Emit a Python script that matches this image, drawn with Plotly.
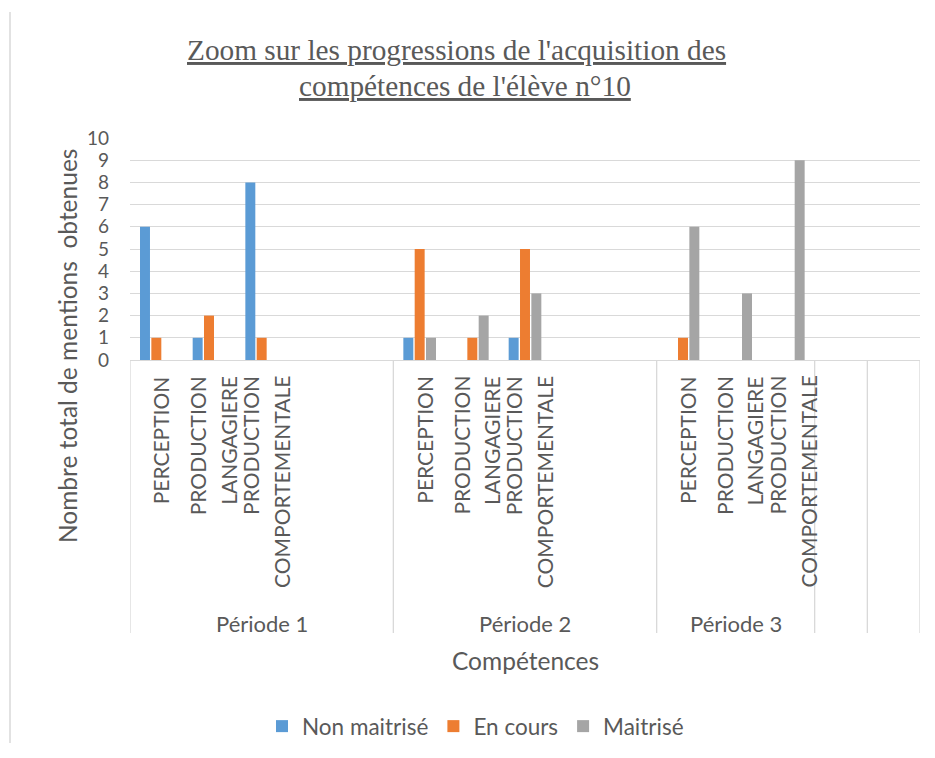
import plotly.graph_objects as go

# ---------------- data ----------------
periods = ["Période 1", "Période 2", "Période 3", "", ""]
period_slots = [5, 5, 3, 1, 1]          # number of category slots per group on the axis
competences = ["PERCEPTION", "PRODUCTION LANGAGIERE", "PRODUCTION COMPORTEMENTALE"]
series_names = ["Non maitrisé", "En cours", "Maitrisé"]
# values listed period by period, competence by competence
non_maitrise = [6, 1, 8, 1, 0, 1, 0, 0, 0]
en_cours = [1, 2, 1, 5, 1, 5, 1, 0, 0]
maitrise = [0, 0, 0, 1, 2, 3, 6, 3, 9]
y_ticks = [0, 1, 2, 3, 4, 5, 6, 7, 8, 9, 10]

title_lines = ["Zoom sur les progressions de l'acquisition des", "compétences de l'élève n°10"]
y_title = "Nombre total de mentions  obtenues"
x_title = "Compétences"

colors = ["#5B9BD5", "#ED7D31", "#A5A5A5"]
TXT = "#595959"
GRID = "#D9D9D9"
FONT = "Lato, Carlito, Calibri, sans-serif"

# ---------------- layout geometry ----------------
OFF = 8  # page body margin
W, H = 935 - 2 * OFF, 735   # keep the page free of scrollbars
PLOT_L, PLOT_R, PLOT_T, PLOT_B = 130, 920, 138, 360   # target window pixels
L, T = PLOT_L - OFF, PLOT_T - OFF
B = H - (PLOT_B - OFF)
R = W - (PLOT_R - OFF)
PW, PH = PLOT_R - PLOT_L, PLOT_B - PLOT_T


def py(p):  # window pixel y -> paper y
    return (PLOT_B - p) / PH


def px(p):  # window pixel x -> paper x
    return (p - PLOT_L) / PW


# slot positions
starts = []
s = 0
for n in period_slots:
    starts.append(s)
    s += n
n_slots = s

slot_x = []
for pi in range(3):
    for j in range(len(competences)):
        slot_x.append(starts[pi] + j)

fig = go.Figure()
for name, vals, c in zip(series_names, [non_maitrise, en_cours, maitrise], colors):
    fig.add_trace(go.Bar(x=slot_x, y=vals, name=name, marker=dict(color=c, line=dict(width=0))))

annotations = []
# category labels (vertical, split in lines)
for pi in range(3):
    for j, lab in enumerate(competences):
        words = lab.split(" ")
        n = len(words)
        for k, w in enumerate(words):
            annotations.append(dict(
                x=starts[pi] + j, xref="x", y=0, yref="paper",
                text=w, textangle=-90, showarrow=False,
                xanchor="center", yanchor="top",
                xshift=4 + (k - (n - 1) / 2) * 30.5, yshift=-14,
                font=dict(family=FONT, size=21, color=TXT)))
# period labels
for pi, p in enumerate(periods):
    if p:
        annotations.append(dict(
            x=starts[pi] + (period_slots[pi] - 1) / 2, xref="x",
            y=py(623), yref="paper", text=p, showarrow=False,
            xanchor="center", yanchor="middle",
            font=dict(family=FONT, size=22, color=TXT)))
# axis titles
annotations.append(dict(x=(n_slots - 1) / 2, xref="x", y=py(660), yref="paper",
                        text=x_title, showarrow=False, xanchor="center", yanchor="middle",
                        font=dict(family=FONT, size=24.5, color=TXT)))
annotations.append(dict(x=px(67), xref="paper", y=py(346), yref="paper",
                        text=y_title, textangle=-90, showarrow=False,
                        xanchor="center", yanchor="middle",
                        font=dict(family=FONT, size=24.5, color=TXT)))
# title
for line, xc, yc in zip(title_lines, [456, 465], [50, 86]):
    annotations.append(dict(x=px(xc), xref="paper", y=py(yc), yref="paper",
                            text="<u>" + line + "</u>", showarrow=False,
                            xanchor="center", yanchor="middle",
                            font=dict(family="Liberation Serif, Times New Roman, serif",
                                      size=29.3, color=TXT)))

shapes = []
# group dividers below the axis
bounds = [-0.5]
for n in period_slots:
    bounds.append(bounds[-1] + n)
for b in bounds:
    shapes.append(dict(type="line", xref="x", yref="paper", x0=b, x1=b,
                       y0=0, y1=py(633), line=dict(color=GRID, width=1.3)))
# chart-area left border
shapes.append(dict(type="line", xref="paper", yref="paper", x0=px(10), x1=px(10),
                   y0=py(12), y1=py(OFF + H), line=dict(color=GRID, width=1.5)))

fig.update_layout(
    width=W, height=H,
    margin=dict(l=L, r=R, t=T, b=B, pad=0, autoexpand=False),
    paper_bgcolor="white", plot_bgcolor="white",
    barmode="group", bargap=0.354, bargroupgap=0.12,
    showlegend=True,
    legend=dict(orientation="h", x=px(262), xanchor="left", y=py(726.5), yanchor="middle",
                font=dict(family=FONT, size=22.5, color=TXT), traceorder="normal",
                itemwidth=30, bgcolor="rgba(0,0,0,0)"),
    annotations=annotations, shapes=shapes,
    font=dict(family=FONT, color=TXT),
)
fig.update_xaxes(range=[-0.5, n_slots - 0.5], showticklabels=False, showgrid=False,
                 zeroline=False, showline=True, linecolor=GRID, linewidth=1.3,
                 ticks="", fixedrange=True)
fig.update_yaxes(range=[0, 10], tickvals=y_ticks, showgrid=True, gridcolor=GRID, gridwidth=1.3,
                 zeroline=False, showline=False, ticks="", ticklabelstandoff=20,
                 tickfont=dict(family=FONT, size=19, color=TXT), fixedrange=True)

fig.write_html("out.html")
